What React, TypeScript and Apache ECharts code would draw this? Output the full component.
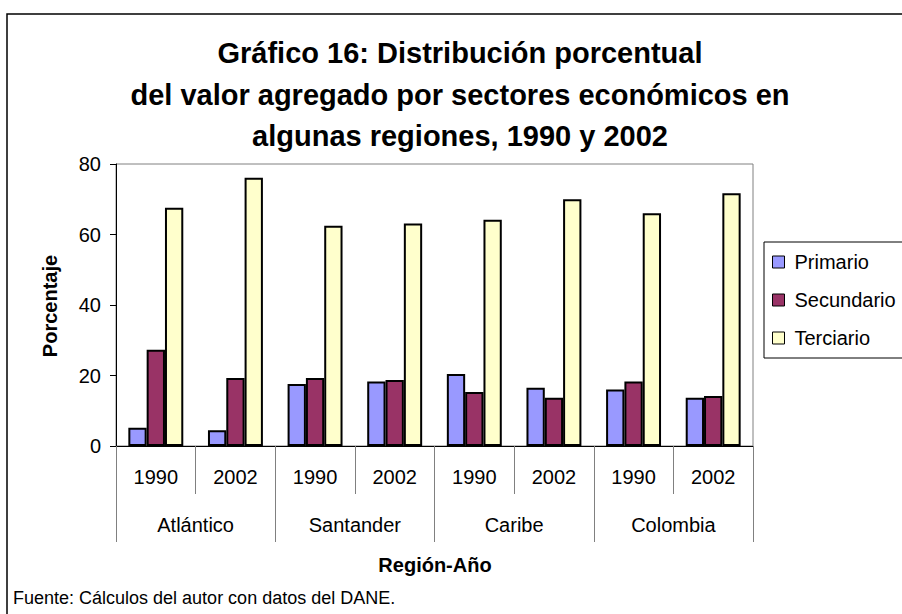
import React, { useEffect, useRef } from "react";
import * as echarts from "echarts";

const years = ["1990", "2002", "1990", "2002", "1990", "2002", "1990", "2002"];
const regions = ["Atlántico", "Santander", "Caribe", "Colombia"];
const seriesNames = ["Primario", "Secundario", "Terciario"];
const primario = [5.2, 4.5, 17.6, 18.3, 20.4, 16.5, 16.0, 13.7];
const secundario = [27.3, 19.3, 19.3, 18.7, 15.3, 13.7, 18.3, 14.2];
const terciario = [67.6, 76.1, 62.5, 63.1, 64.2, 70.0, 66.0, 71.7];
const yMin = 0;
const yMax = 80;
const yStep = 20;

const titleLines = [
  "Gráfico 16: Distribución porcentual",
  "del valor agregado por sectores económicos en",
  "algunas regiones, 1990 y 2002",
];
const yName = "Porcentaje";
const xName = "Región-Año";
const source = "Fuente: Cálculos del autor con datos del DANE.";

const colors = ["#9999FF", "#993366", "#FFFFCC"];
const FONT = "'Liberation Sans', Arial, Helvetica, sans-serif";

export default function App() {
  const ref = useRef<HTMLDivElement>(null);

  useEffect(() => {
    if (!ref.current) return;
    const chart = echarts.init(ref.current, undefined, { renderer: "svg" });
    const values = [primario, secundario, terciario];

    const option: any = {
      animation: false,
      backgroundColor: "#ffffff",
      textStyle: { fontFamily: FONT },
      grid: {
        left: 116,
        top: 164,
        right: 149,
        bottom: 168,
        show: true,
        borderColor: "#808080",
        borderWidth: 1,
        backgroundColor: "transparent",
      },
      legend: {
        orient: "vertical",
        left: 764,
        top: 242,
        padding: [10, 10, 10, 8],
        itemGap: 18,
        itemWidth: 12,
        itemHeight: 12,
        icon: "rect",
        borderColor: "#000",
        borderWidth: 1,
        backgroundColor: "#fff",
        textStyle: {
          fontSize: 20,
          lineHeight: 20,
          color: "#000",
          fontFamily: FONT,
          padding: [0, 0, 0, 5],
        },
        itemStyle: { borderColor: "#000", borderWidth: 1 },
        data: seriesNames,
      },
      xAxis: [
        {
          type: "category",
          data: years,
          position: "bottom",
          axisLine: { show: true, lineStyle: { color: "#000", width: 1 } },
          axisTick: {
            show: true,
            interval: 0,
            length: 48,
            lineStyle: { color: "#808080", width: 1 },
          },
          axisLabel: {
            interval: 0,
            margin: 21,
            fontSize: 20,
            color: "#000",
            fontFamily: FONT,
          },
          splitLine: { show: false },
        },
        {
          type: "category",
          data: regions,
          position: "bottom",
          axisLine: { show: false },
          axisTick: {
            show: true,
            interval: 0,
            length: 96,
            lineStyle: { color: "#808080", width: 1 },
          },
          axisLabel: {
            interval: 0,
            margin: 69,
            fontSize: 20,
            color: "#000",
            fontFamily: FONT,
          },
          splitLine: { show: false },
        },
      ],
      yAxis: {
        type: "value",
        min: yMin,
        max: yMax,
        interval: yStep,
        axisLine: { show: true, lineStyle: { color: "#000", width: 1 } },
        axisTick: { show: true, length: 6, lineStyle: { color: "#000" } },
        axisLabel: { fontSize: 20, color: "#000", margin: 15, fontFamily: FONT },
        splitLine: { show: false },
      },
      series: seriesNames.map((name, i) => ({
        name,
        type: "bar",
        xAxisIndex: 0,
        data: values[i],
        barGap: "0%",
        barCategoryGap: "31%",
        itemStyle: { color: colors[i], borderColor: "#000", borderWidth: 2 },
      })),
      graphic: [
        {
          type: "rect",
          z: -1,
          silent: true,
          shape: { x: 7, y: 14, width: 1000, height: 1000 },
          style: { fill: "transparent", stroke: "#000", lineWidth: 1.5 },
        },
        ...titleLines.map((t, i) => ({
          type: "text",
          x: 460,
          y: 53 + i * 41.5,
          style: {
            text: t,
            fontSize: 29,
            fontWeight: "bold",
            fontFamily: FONT,
            fill: "#000",
            textAlign: "center",
            textVerticalAlign: "middle",
          },
        })),
        {
          type: "text",
          x: 50,
          y: 306,
          rotation: Math.PI / 2,
          style: {
            text: yName,
            fontSize: 20,
            fontWeight: "bold",
            fontFamily: FONT,
            fill: "#000",
            textAlign: "center",
            textVerticalAlign: "middle",
          },
        },
        {
          type: "text",
          x: 435,
          y: 565,
          style: {
            text: xName,
            fontSize: 20,
            fontWeight: "bold",
            fontFamily: FONT,
            fill: "#000",
            textAlign: "center",
            textVerticalAlign: "middle",
          },
        },
        {
          type: "text",
          x: 13,
          y: 598,
          style: {
            text: source,
            fontSize: 18,
            fontFamily: FONT,
            fill: "#000",
            textAlign: "left",
            textVerticalAlign: "middle",
          },
        },
      ],
    };

    chart.setOption(option);
    return () => chart.dispose();
  }, []);

  return (
    <div
      ref={ref}
      style={{ position: "absolute", left: 0, top: 0, width: 902, height: 614 }}
    />
  );
}
